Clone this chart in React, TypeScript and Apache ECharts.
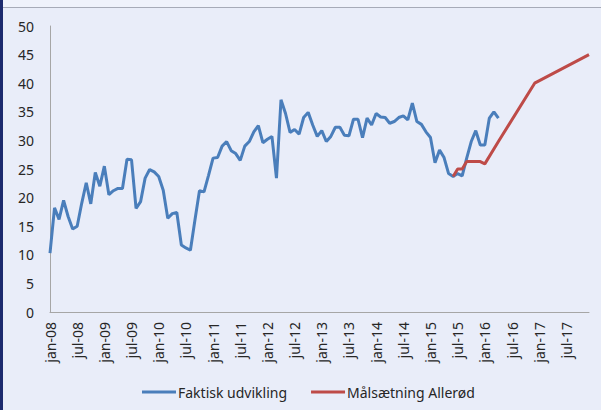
import React, { useEffect, useRef } from "react";
import * as echarts from "echarts";

const monthNames = ["jan", "feb", "mar", "apr", "maj", "jun", "jul", "aug", "sep", "okt", "nov", "dec"];
const years = ["08", "09", "10", "11", "12", "13", "14", "15", "16", "17"];
const categories: string[] = [];
years.forEach((y) => monthNames.forEach((m) => categories.push(`${m}-${y}`)));

const yTicks = { min: 0, max: 50, interval: 5 };

// Faktisk udvikling, jan-08 .. apr-16
const actual = [
  10.3, 18.2, 16.2, 19.5, 16.7, 14.5, 15.0, 19.0, 22.6, 18.9, 24.4, 22.0,
  25.5, 20.5, 21.2, 21.6, 21.6, 26.7, 26.6, 18.1, 19.3, 23.4, 24.9, 24.5,
  23.7, 21.3, 16.4, 17.2, 17.4, 11.7, 11.2, 10.8, 16.1, 21.2, 21.0, 23.9,
  26.9, 27.0, 29.0, 29.8, 28.2, 27.7, 26.5, 29.0, 29.8, 31.5, 32.6, 29.6,
  30.2, 30.7, 23.4, 37.1, 34.7, 31.4, 31.9, 31.1, 34.0, 34.9, 32.7, 30.7,
  31.7, 29.8, 30.7, 32.3, 32.3, 30.9, 30.8, 33.7, 33.7, 30.5, 33.9, 32.7,
  34.7, 34.1, 34.0, 33.0, 33.3, 34.0, 34.3, 33.6, 36.5, 33.3, 32.8, 31.5,
  30.5, 26.1, 28.3, 27.0, 24.2, 23.7, 24.2, 23.8, 26.9, 29.8, 31.7, 29.2,
  29.2, 33.9, 35.0, 33.9,
];

// Målsætning Allerød (anchor points of the target line)
const targetMonths = ["jun-15", "jul-15", "aug-15", "sep-15", "dec-15", "jan-16", "apr-16", "dec-16", "dec-17"];
const targetValues = [23.7, 25.0, 25.0, 26.3, 26.3, 25.9, 29.8, 40.0, 45.0];

const seriesNames = ["Faktisk udvikling", "Målsætning Allerød"];

const FONT = "Noto Sans";

export default function App() {
  const ref = useRef<HTMLDivElement>(null);
  useEffect(() => {
    document.body.style.margin = "0";
    if (!ref.current) return;
    const chart = echarts.init(ref.current, null, { renderer: "svg" });
    chart.setOption({
      animation: false,
      backgroundColor: "#E9EDF9",
      textStyle: { fontFamily: FONT },
      graphic: [
        { type: "rect", shape: { x: 0, y: 0, width: 601, height: 7 }, style: { fill: "#EFF2FB" }, silent: true },
        { type: "line", shape: { x1: 0, y1: 7.5, x2: 601, y2: 7.5 }, style: { stroke: "#A7ABB8", lineWidth: 1 }, silent: true },
        { type: "rect", shape: { x: 0, y: 0, width: 3, height: 410 }, style: { fill: "#1C2A6E" }, silent: true },
      ],
      grid: { left: 50, right: 12, top: 26, bottom: 98 },
      legend: {
        data: seriesNames,
        left: 137,
        top: 380,
        icon: "rect",
        itemWidth: 34,
        itemHeight: 3,
        itemGap: 24,
        textStyle: { fontFamily: FONT, fontSize: 14, color: "#262626", padding: [0, 0, 0, -3] },
      },
      xAxis: {
        type: "category",
        data: categories,
        boundaryGap: false,
        axisLine: { lineStyle: { color: "#A6A6A6", width: 1 } },
        axisTick: { show: false },
        axisLabel: {
          interval: 5,
          rotate: 90,
          margin: 10,
          fontFamily: FONT,
          fontSize: 14,
          color: "#262626",
        },
        splitLine: { show: false },
      },
      yAxis: {
        type: "value",
        min: yTicks.min,
        max: yTicks.max,
        interval: yTicks.interval,
        axisLine: { show: true, lineStyle: { color: "#A6A6A6", width: 1 } },
        axisTick: { show: false },
        axisLabel: { margin: 16, fontFamily: FONT, fontSize: 14, color: "#262626" },
        splitLine: { show: false },
      },
      series: [
        {
          name: seriesNames[0],
          type: "line",
          data: actual,
          symbol: "none",
          lineStyle: { color: "#4A7EBB", width: 3 },
          itemStyle: { color: "#4A7EBB" },
        },
        {
          name: seriesNames[1],
          type: "line",
          data: targetMonths.map((m, i) => [m, targetValues[i]]),
          symbol: "none",
          lineStyle: { color: "#BE4B48", width: 3 },
          itemStyle: { color: "#BE4B48" },
        },
      ],
    });
    return () => chart.dispose();
  }, []);
  return <div ref={ref} style={{ width: 601, height: 410 }} />;
}
